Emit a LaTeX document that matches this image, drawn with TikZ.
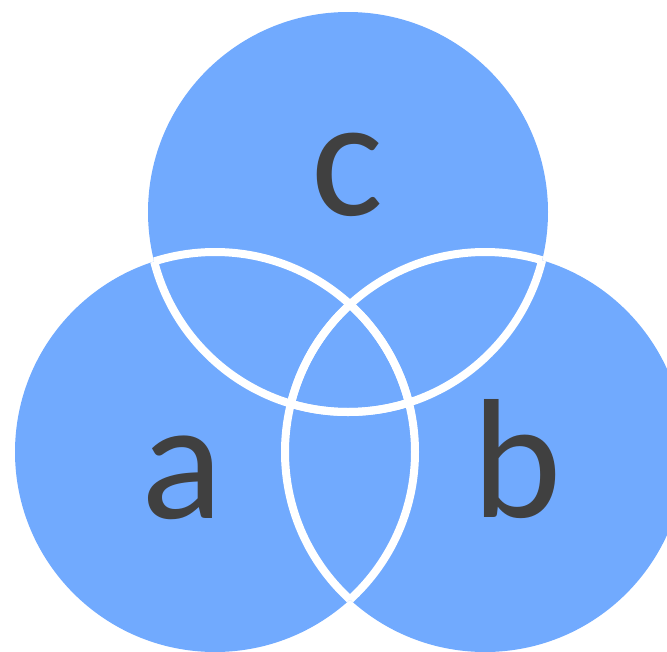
\documentclass[tikz,border=0pt]{standalone}
\usepackage{fontspec}
\setmainfont{Carlito}
\usetikzlibrary{positioning}
\definecolor{setfill}{HTML}{71AAFE}
\definecolor{labeltext}{HTML}{404040}
\tikzset{
  setlabel/.style={text=labeltext,inner sep=0pt,anchor=base,
        font=\fontsize{170}{170}\selectfont},
  lensline/.style={draw=white,line width=8pt}
}

\begin{document}
\begin{tikzpicture}[x=1pt,y=-1pt]
  \useasboundingbox (0,0) rectangle (667,651);
  % set centres
  \coordinate (seta) at (215,452);
  \coordinate (setb) at (485,452);
  \coordinate (setc) at (348,212);
  \foreach \s in {seta,setb,setc}
    \fill[setfill] (\s) circle (200pt);
  % white borders of the overlaps
  \foreach \s/\t in {seta/setb,seta/setc,setb/seta,setb/setc,setc/seta,setc/setb}{
    \begin{scope}
      \clip (\t) circle (200pt);
      \draw[lensline] (\s) circle (200pt);
    \end{scope}
  }
  \node[setlabel] (labela) at (182,518) {a};
  \node[setlabel] (labelb) at (517,517) {b};
  \node[setlabel] (labelc) at (347,215) {c};
\end{tikzpicture}
\end{document}
